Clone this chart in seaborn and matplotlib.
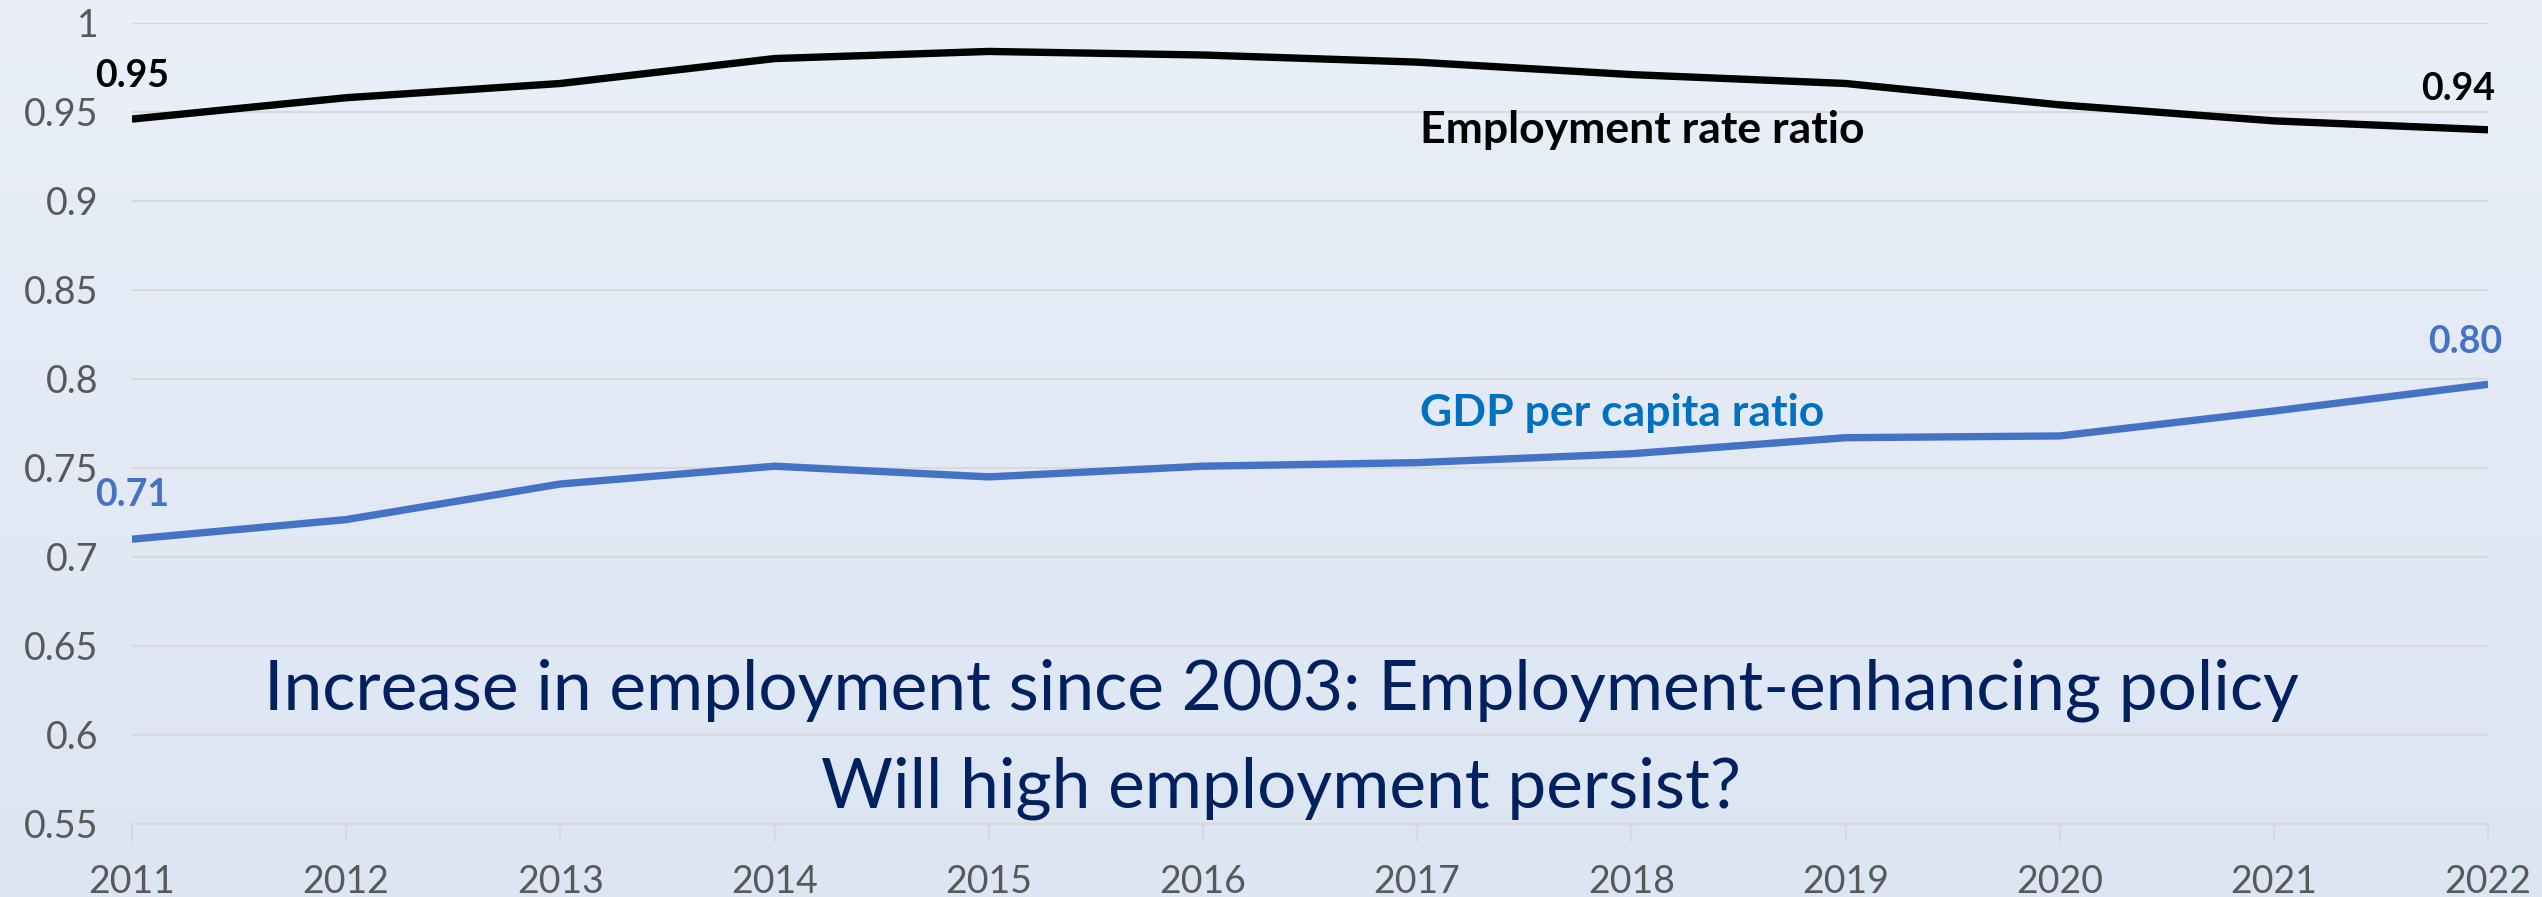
import numpy as np
import pandas as pd
import matplotlib
matplotlib.use("Agg")
import matplotlib.pyplot as plt
import seaborn as sns

years = [2011, 2012, 2013, 2014, 2015, 2016, 2017, 2018, 2019, 2020, 2021, 2022]
employment_ratio = [0.946, 0.958, 0.966, 0.980, 0.984, 0.982, 0.978, 0.971, 0.966, 0.954, 0.945, 0.940]
gdp_ratio = [0.710, 0.721, 0.741, 0.751, 0.745, 0.751, 0.753, 0.758, 0.767, 0.768, 0.782, 0.797]
y_ticks = [0.55, 0.6, 0.65, 0.7, 0.75, 0.8, 0.85, 0.9, 0.95, 1.0]
y_tick_labels = ["0.55", "0.6", "0.65", "0.7", "0.75", "0.8", "0.85", "0.9", "0.95", "1"]

sns.set_theme(style="white")
plt.rcParams["font.family"] = ["Lato", "DejaVu Sans"]

BLACK = "#000000"
BLUE_LINE = "#4472C4"
BLUE_TEXT = "#0070C0"
NAVY = "#002060"
GREY = "#595959"

fig = plt.figure(figsize=(25.42, 8.97), dpi=100)

# soft vertical gradient behind the whole figure
bg = fig.add_axes([0, 0, 1, 1], zorder=-10)
grad = np.linspace(0, 1, 256).reshape(-1, 1)
top = np.array([234, 239, 248]) / 255
bottom = np.array([220, 229, 243]) / 255
img = top + (bottom - top) * grad[:, :, None]
bg.imshow(img, aspect="auto", extent=[0, 1, 0, 1])
bg.axis("off")

ax = fig.add_axes([0.0519, 0.0814, 0.9269, 0.893])
ax.set_facecolor("none")

df = pd.DataFrame({"year": years, "Employment rate ratio": employment_ratio,
                   "GDP per capita ratio": gdp_ratio})
sns.lineplot(data=df, x="year", y="Employment rate ratio", color=BLACK, linewidth=5.3, ax=ax,
             solid_capstyle="butt", zorder=3)
sns.lineplot(data=df, x="year", y="GDP per capita ratio", color=BLUE_LINE, linewidth=5.3, ax=ax,
             solid_capstyle="butt", zorder=3)

ax.set_xlim(years[0], years[-1])
ax.set_ylim(0.55, 1.0)
ax.set_yticks(y_ticks)
ax.set_yticklabels(y_tick_labels)
ax.set_xticks(years)
ax.set_xticklabels([str(y) for y in years])
ax.set_xlabel("")
ax.set_ylabel("")
ax.grid(axis="y", color="#d9d9d9", linewidth=1.5)
ax.grid(axis="x", visible=False)
for side in ["left", "right", "top"]:
    ax.spines[side].set_visible(False)
ax.spines["bottom"].set_color("#d9d9d9")
ax.spines["bottom"].set_linewidth(1.5)
ax.tick_params(axis="y", length=0, pad=24, labelsize=27, labelcolor=GREY)
ax.tick_params(axis="x", length=13, width=1.5, color="#d9d9d9", pad=16, labelsize=27,
               labelcolor=GREY, bottom=True)

# end-point value labels
label_kw = dict(textcoords="offset pixels", ha="center", va="center", fontsize=27,
                fontweight="bold", annotation_clip=False)
ax.annotate(f"{employment_ratio[0]:.2f}", (years[0], employment_ratio[0]), xytext=(0, 43),
            color=BLACK, **label_kw)
ax.annotate(f"{employment_ratio[-1]:.2f}", (years[-1], employment_ratio[-1]), xytext=(-30, 41),
            color=BLACK, **label_kw)
ax.annotate(f"{gdp_ratio[0]:.2f}", (years[0], gdp_ratio[0]), xytext=(0, 44),
            color=BLUE_LINE, **label_kw)
ax.annotate(f"{gdp_ratio[-1]:.2f}", (years[-1], gdp_ratio[-1]), xytext=(-23, 42),
            color=BLUE_LINE, **label_kw)

# series names
fig.text(1420 / 2542, 1 - 130 / 897, "Employment rate ratio", ha="left", va="center",
         fontsize=32, fontweight="bold", color=BLACK)
fig.text(1420 / 2542, 1 - 413 / 897, "GDP per capita ratio", ha="left", va="center",
         fontsize=32, fontweight="bold", color=BLUE_TEXT)

# commentary
fig.text(1281 / 2542, 1 - 690 / 897, "Increase in employment since 2003: Employment-enhancing policy",
         ha="center", va="center", fontsize=50, color=NAVY)
fig.text(1281 / 2542, 1 - 788 / 897, "Will high employment persist?",
         ha="center", va="center", fontsize=50, color=NAVY)

fig.savefig("out.png", dpi=100)
